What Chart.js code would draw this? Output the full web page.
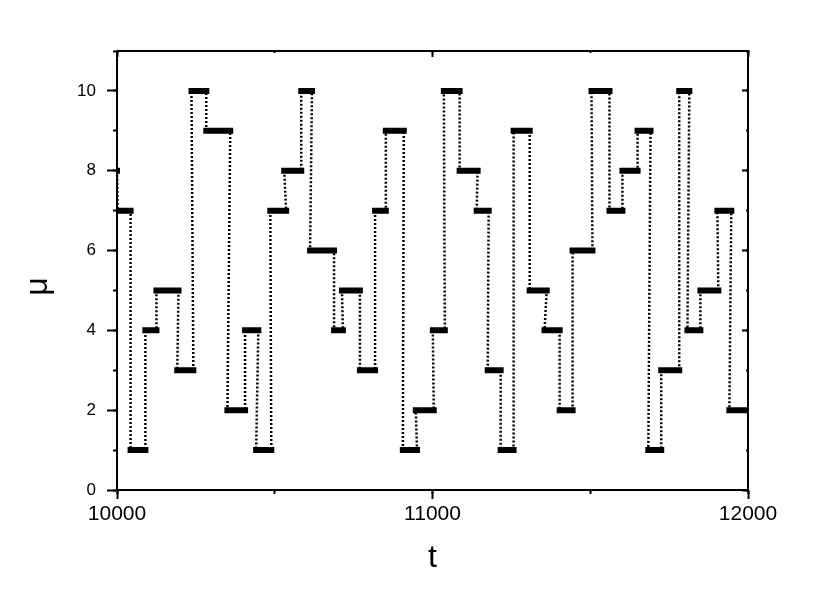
<!DOCTYPE html>
<html><head><meta charset="utf-8">
<script src="https://cdn.jsdelivr.net/npm/chart.js@4.4.0/dist/chart.umd.min.js"></script>
<style>html,body{margin:0;padding:0;background:#fff;}#c{display:block;}</style>
</head><body>
<canvas id="c" width="830" height="600"></canvas>
<script>
// state levels (mu) and the time span of each plateau
const levels = [8,7,1,4,5,3,10,9,2,4, 1,7,8,10,6,4,5,3,7,9, 1,2,4,10,8,7,3,1,9,5, 4,2,6,10,7,8,9,1,3,10, 4,5,7,2];
const starts = [9975,10002,10043,10090,10125,10191,10236,10283,10350,10406, 10441,10486,10530,10584,10612,10688,10713,10770,10818,10852, 10906,10947,11001,11036,11086,11140,11175,11216,11257,11308, 11355,11403,11444,11504,11561,11602,11650,11684,11725,11782, 11808,11849,11903,11941];
const ends   = [10000,10043,10090,10125,10195,10242,10283,10359,10406,10448, 10489,10536,10584,10618,10688,10716,10770,10818,10852,10909, 10951,11004,11039,11086,11143,11178,11216,11257,11308,11362, 11403,11444,11507,11561,11602,11650,11691,11725,11782,11814, 11849,11906,11947,12020];

// axis ticks
const xMajorTicks = [10000, 11000, 12000];
const xMinorTicks = [10000, 10500, 11000, 11500, 12000];
const yMajorTicks = [0, 2, 4, 6, 8, 10];
const yMinorTicks = [0, 1, 2, 3, 4, 5, 6, 7, 8, 9, 10, 11];
const xRange = [10000, 12000];
const yRange = [0, 11];
const xTitle = 't';
const yTitle = 'μ\u2003';

const FONT = "'Liberation Sans', Arial, sans-serif";

const barData = [];
levels.forEach((v, i) => {
  barData.push({x: starts[i], y: v}, {x: ends[i], y: v});
  if (i < levels.length - 1) barData.push({x: ends[i], y: null});
});
const pathData = [];
levels.forEach((v, i) => { pathData.push({x: starts[i], y: v}, {x: ends[i], y: v}); });

function setTicks(arr) { return s => { s.ticks = arr.map(v => ({value: v})); }; }
function markAxis(axis, position, weight, arr, len, withBorder) {
  const isX = axis === 'x';
  return {
    type: 'linear', axis: axis, position: position, weight: weight,
    min: isX ? xRange[0] : yRange[0], max: isX ? xRange[1] : yRange[1],
    afterBuildTicks: setTicks(arr),
    afterFit: s => { if (isX) s.height = 0; else s.width = 0; },
    grid: {display: true, drawOnChartArea: false, tickLength: len, tickWidth: 2, tickColor: '#000'},
    border: {display: withBorder, width: 2, color: '#000'},
    ticks: {display: false}
  };
}

new Chart(document.getElementById('c'), {
  type: 'line',
  data: {
    datasets: [
      {data: barData, borderColor: '#000', borderWidth: 6, borderCapStyle: 'square',
       pointRadius: 0, spanGaps: false, fill: false, clip: 0, xAxisID: 'x', yAxisID: 'y'},
      {data: pathData, borderColor: '#000', borderWidth: 2.5, borderDash: [2, 2],
       pointRadius: 0, fill: false, clip: 0, tension: 0, xAxisID: 'x', yAxisID: 'y'}
    ]
  },
  options: {
    responsive: false, animation: false, devicePixelRatio: 1,
    layout: {padding: {left: 0, top: 51, right: 82, bottom: 0}},
    plugins: {legend: {display: false}, tooltip: {enabled: false}},
    scales: {
      x: {
        type: 'linear', position: 'bottom', weight: 1, min: xRange[0], max: xRange[1],
        afterBuildTicks: setTicks(xMajorTicks),
        afterFit: s => { s.height = 110; },
        grid: {display: true, drawOnChartArea: false, tickLength: 9, tickWidth: 2, tickColor: '#000'},
        border: {display: true, width: 2, color: '#000'},
        ticks: {color: '#000', font: {family: FONT, size: 21}, padding: 3, autoSkip: false, maxRotation: 0,
                callback: v => String(v)},
        title: {display: true, text: xTitle, color: '#000', font: {family: FONT, size: 32},
                padding: {top: 0, bottom: 23}}
      },
      xMinor: markAxis('x', 'bottom', 0, xMinorTicks, 4, false),
      xTop: markAxis('x', 'top', 1, xMajorTicks, -6, true),
      xTopMinor: markAxis('x', 'top', 0, xMinorTicks, -2, false),
      y: {
        type: 'linear', position: 'left', weight: 1, min: yRange[0], max: yRange[1],
        afterBuildTicks: setTicks(yMajorTicks),
        afterFit: s => { s.width = 117; },
        grid: {display: true, drawOnChartArea: false, tickLength: 10, tickWidth: 2, tickColor: '#000'},
        border: {display: true, width: 2, color: '#000'},
        ticks: {color: '#000', font: {family: FONT, size: 17}, padding: 11, callback: v => String(v)},
        title: {display: true, text: yTitle, color: '#000', font: {family: FONT, size: 32},
                padding: {top: 19, bottom: 0}}
      },
      yMinor: markAxis('y', 'left', 0, yMinorTicks, 4, false),
      yRight: markAxis('y', 'right', 1, yMajorTicks, -6, true),
      yRightMinor: markAxis('y', 'right', 0, yMinorTicks, -2, false)
    }
  }
});
</script>
</body></html>
